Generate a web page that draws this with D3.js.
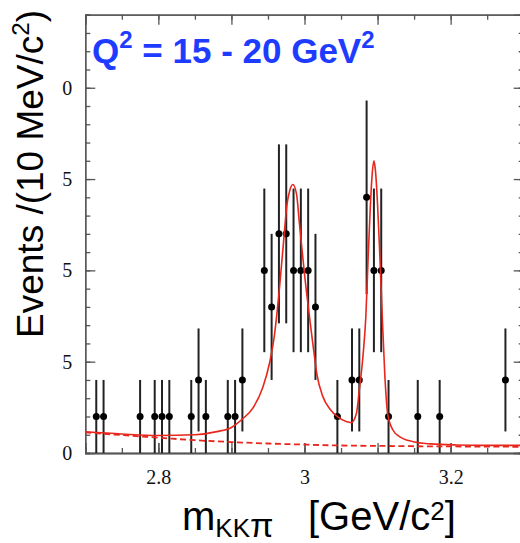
<!DOCTYPE html>
<html>
<head>
<meta charset="utf-8">
<script src="https://cdn.jsdelivr.net/npm/d3@7"></script>
<style>
  body { margin: 0; background: #fff; }
  svg { display: block; }
  .axis path, .axis line { stroke: #555; stroke-width: 1.3; }
  .axis text { font-family: "Liberation Serif", "Times New Roman", serif; font-size: 20px; fill: #111; }
</style>
</head>
<body>
<div id="chart"></div>
<script>
// bin centres (GeV/c^2), events per bin and their errors
var massBins = [2.715, 2.725, 2.775, 2.795, 2.805, 2.815, 2.845, 2.855, 2.865, 2.895, 2.905, 2.915,
                2.945, 2.955, 2.965, 2.975, 2.985, 2.995, 3.005, 3.015,
                3.045, 3.065, 3.075, 3.085, 3.095, 3.105, 3.115, 3.155, 3.185, 3.275];
var counts = [1, 1, 1, 1, 1, 1, 1, 2, 1, 1, 1, 2,
              5, 4, 6, 6, 5, 5, 5, 4,
              1, 2, 2, 7, 5, 5, 1, 1, 1, 2];
var errors = [1, 1, 1, 1, 1, 1, 1, 1.41, 1, 1, 1, 1.41,
              2.24, 2, 2.45, 2.45, 2.24, 2.24, 2.24, 2,
              1, 1.41, 1.41, 2.65, 2.24, 2.24, 1, 1, 1, 1.41];

// total fit curve
var fitMass = [2.70, 2.75, 2.80, 2.85, 2.88, 2.90, 2.915, 2.93, 2.943, 2.952, 2.959, 2.964, 2.971, 2.976,
               2.980, 2.984, 2.989, 2.993, 3.000, 3.007, 3.012, 3.017, 3.025, 3.035, 3.046, 3.057, 3.064,
               3.071, 3.075, 3.080, 3.084, 3.087, 3.090, 3.0925, 3.095, 3.097, 3.100, 3.103, 3.106, 3.110,
               3.114, 3.121, 3.130, 3.149, 3.172, 3.208, 3.25, 3.30];
var fitTotal = [0.58, 0.52, 0.48, 0.50, 0.585, 0.70, 0.93, 1.25, 1.8, 2.45, 3.25, 4.15, 5.7, 6.8,
                7.2, 7.35, 7.1, 6.3, 4.9, 3.7, 2.9, 2.15, 1.55, 1.2, 0.98, 0.86, 0.83,
                1.08, 1.72, 2.65, 3.75, 5.3, 6.7, 7.6, 8.0, 7.75, 6.8, 5.45, 3.95, 2.1,
                1.05, 0.63, 0.45, 0.31, 0.25, 0.22, 0.21, 0.21];

// background component (dashed)
var bkgMass = [2.70, 2.75, 2.80, 2.85, 2.90, 2.95, 3.00, 3.05, 3.10, 3.15, 3.20, 3.25, 3.30];
var bkgLevel = [0.565, 0.49, 0.42, 0.35, 0.30, 0.26, 0.23, 0.205, 0.195, 0.185, 0.18, 0.175, 0.17];

var xTickValues = [2.8, 3.0, 3.2];
var yTickValues = [0, 2.5, 5, 7.5, 10];

renderChart();

function renderChart() {
    var W = 520, H = 543;
    var left = 85.3, right = 523.7, top = 14.7, bottom = 453;

    var x = d3.scaleLinear().domain([2.7, 3.3]).range([left, right]);
    var y = d3.scaleLinear().domain([0, 12]).range([bottom, top]);

    var svg = d3.select("#chart").append("svg")
        .attr("width", W)
        .attr("height", H);

    // minor ticks first
    svg.append("g").attr("class", "axis")
        .attr("transform", "translate(" + left + ",0)")
        .call(d3.axisLeft(y).tickValues(d3.range(0, 12.01, 0.5)).tickSize(-5).tickFormat(""));
    svg.append("g").attr("class", "axis")
        .attr("transform", "translate(" + right + ",0)")
        .call(d3.axisRight(y).tickValues(d3.range(0, 12.01, 0.5)).tickSize(-5).tickFormat(""));
    svg.append("g").attr("class", "axis")
        .attr("transform", "translate(0," + bottom + ")")
        .call(d3.axisBottom(x).tickValues(d3.range(2.7, 3.301, 0.05)).tickSize(-5).tickFormat(""));
    svg.append("g").attr("class", "axis")
        .attr("transform", "translate(0," + top + ")")
        .call(d3.axisTop(x).tickValues(d3.range(2.7, 3.301, 0.05)).tickSize(-5).tickFormat(""));

    // medium x ticks every 0.1
    svg.append("g").attr("class", "axis")
        .attr("transform", "translate(0," + bottom + ")")
        .call(d3.axisBottom(x).tickValues(d3.range(2.7, 3.301, 0.1)).tickSize(-10).tickFormat(""));
    svg.append("g").attr("class", "axis")
        .attr("transform", "translate(0," + top + ")")
        .call(d3.axisTop(x).tickValues(d3.range(2.7, 3.301, 0.1)).tickSize(-10).tickFormat(""));

    // labelled axes
    svg.append("g").attr("class", "axis")
        .attr("transform", "translate(0," + bottom + ")")
        .call(d3.axisBottom(x).tickValues(xTickValues).tickSizeInner(-10).tickSizeOuter(0)
            .tickPadding(17).tickFormat(function(d) { return String(+d.toFixed(1)); }));
    svg.append("g").attr("class", "axis")
        .attr("transform", "translate(" + left + ",0)")
        .call(d3.axisLeft(y).tickValues(yTickValues).tickSizeInner(-10).tickSizeOuter(0)
            .tickPadding(13).tickFormat(function(d) { return String(d); }));
    svg.append("g").attr("class", "axis")
        .attr("transform", "translate(" + right + ",0)")
        .call(d3.axisRight(y).tickValues(yTickValues).tickSize(-10).tickFormat(""));

    // data points with error bars
    var pts = massBins.map(function(m, i) { return {m: m, n: counts[i], e: errors[i]}; });

    svg.append("g").selectAll("line")
        .data(pts)
        .enter().append("line")
        .attr("x1", function(d) { return x(d.m); })
        .attr("x2", function(d) { return x(d.m); })
        .attr("y1", function(d) { return y(Math.max(0, d.n - d.e)); })
        .attr("y2", function(d) { return y(d.n + d.e); })
        .attr("stroke", "#222")
        .attr("stroke-width", 2);

    svg.append("g").selectAll("circle")
        .data(pts)
        .enter().append("circle")
        .attr("cx", function(d) { return x(d.m); })
        .attr("cy", function(d) { return y(d.n); })
        .attr("r", 3.5)
        .attr("fill", "#000");

    // fit curves
    var line = d3.line()
        .x(function(d) { return x(d[0]); })
        .y(function(d) { return y(d[1]); })
        .curve(d3.curveMonotoneX);

    svg.append("path")
        .datum(bkgMass.map(function(m, i) { return [m, bkgLevel[i]]; }))
        .attr("d", line)
        .attr("fill", "none")
        .attr("stroke", "#e8261c")
        .attr("stroke-width", 1.8)
        .attr("stroke-dasharray", "6,3.5");

    svg.append("path")
        .datum(fitMass.map(function(m, i) { return [m, fitTotal[i]]; }))
        .attr("d", line)
        .attr("fill", "none")
        .attr("stroke", "#e8261c")
        .attr("stroke-width", 1.6);

    // white patch behind the y title (hides the leading digits, as in the figure)
    svg.append("rect")
        .attr("x", 0).attr("y", 60)
        .attr("width", 61).attr("height", 330)
        .attr("fill", "#fff");

    // y title
    var yt = svg.append("text")
        .attr("transform", "translate(43,174) rotate(-90)")
        .attr("text-anchor", "middle")
        .style("font-family", "'Liberation Sans', Arial, sans-serif")
        .style("font-size", "37px")
        .attr("fill", "#000");
    yt.append("tspan").text("Events /(10 MeV/c");
    yt.append("tspan").attr("dy", -14).style("font-size", "24px").text("2");
    yt.append("tspan").attr("dy", 14).text(")");

    // x title
    var xt = svg.append("text")
        .attr("x", 182).attr("y", 530)
        .style("font-family", "'Liberation Sans', Arial, sans-serif")
        .style("font-size", "40px")
        .attr("fill", "#000");
    xt.append("tspan").text("m");
    xt.append("tspan").attr("dy", 7).style("font-size", "26px").text("KK");
    xt.append("tspan").style("font-size", "34px").text("\u03c0");
    xt.append("tspan").attr("x", 308).attr("dy", -7).text("[GeV/c");
    xt.append("tspan").attr("dy", -10).style("font-size", "26px").text("2");
    xt.append("tspan").attr("dy", 10).text("]");

    // Q^2 label
    var q = svg.append("text")
        .attr("x", 92).attr("y", 63)
        .style("font-family", "'Liberation Sans', Arial, sans-serif")
        .style("font-size", "35px")
        .style("font-weight", "bold")
        .attr("fill", "#1e3cff");
    q.append("tspan").text("Q");
    q.append("tspan").attr("dy", -15).style("font-size", "24px").text("2");
    q.append("tspan").attr("dy", 15).text(" = 15 - 20 GeV");
    q.append("tspan").attr("dy", -15).style("font-size", "24px").text("2");
}
</script>
</body>
</html>
